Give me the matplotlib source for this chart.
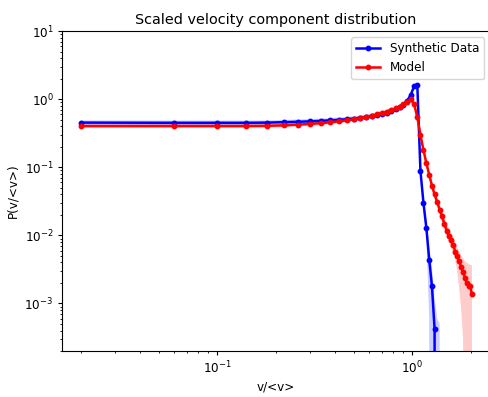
import numpy as np
import matplotlib
matplotlib.use("Agg")
import matplotlib.pyplot as plt

# bin centres of v/<v>
v = [0.02, 0.06, 0.10, 0.14, 0.18, 0.22, 0.26, 0.30, 0.34, 0.38,
     0.42, 0.46, 0.50, 0.54, 0.58, 0.62, 0.66, 0.70, 0.74, 0.78,
     0.82, 0.86, 0.90, 0.94, 0.98, 1.02, 1.06, 1.10, 1.14, 1.18,
     1.22, 1.26, 1.30, 1.34, 1.38, 1.42, 1.46, 1.50, 1.54, 1.58,
     1.62, 1.66, 1.70, 1.74, 1.78, 1.82, 1.86, 1.90, 1.94, 1.98, 2.02]

# Synthetic data (blue)
synth = [0.455, 0.452, 0.452, 0.452, 0.455, 0.462, 0.468, 0.475, 0.483, 0.492,
         0.500, 0.510, 0.522, 0.535, 0.550, 0.568, 0.588, 0.610, 0.638, 0.670,
         0.710, 0.760, 0.830, 0.950, 1.15, 1.55, 1.62, 0.089, 0.030, 0.0128,
         0.0044, 0.0018, 0.00042, 0.0]
synth_hi = [0.49, 0.488, 0.488, 0.488, 0.49, 0.498, 0.505, 0.513, 0.522, 0.531,
            0.54, 0.551, 0.564, 0.578, 0.594, 0.613, 0.635, 0.659, 0.689, 0.724,
            0.767, 0.82, 0.90, 1.03, 1.25, 1.68, 1.75, 0.10, 0.036, 0.017,
            0.0068, 0.0034, 0.0012, 0.0006, 0.0005, 0.0, 0.0, 0.0004, 0.0]
synth_lo = [0.423, 0.42, 0.42, 0.42, 0.423, 0.43, 0.435, 0.442, 0.449, 0.458,
            0.465, 0.474, 0.485, 0.498, 0.512, 0.528, 0.547, 0.567, 0.593, 0.623,
            0.66, 0.707, 0.77, 0.88, 1.06, 1.43, 1.50, 0.078, 0.024, 0.009,
            0.0006, 0.0, 0.0, 0.0, 0.0, 0.0, 0.0, 0.0, 0.0]

# Model (red)
model = [0.405, 0.405, 0.405, 0.405, 0.408, 0.415, 0.425, 0.435, 0.447, 0.46,
         0.475, 0.49, 0.508, 0.528, 0.55, 0.575, 0.60, 0.628, 0.66, 0.695,
         0.735, 0.78, 0.84, 0.92, 1.00, 0.85, 0.55, 0.30, 0.18, 0.115,
         0.078, 0.054, 0.040, 0.031, 0.024, 0.019, 0.0148, 0.0118, 0.0098, 0.0085,
         0.0072, 0.0058, 0.0049, 0.0042, 0.0034, 0.0029, 0.0024, 0.0020, 0.0018, 0.0018,
         0.00137]
model_hi = [0.43, 0.43, 0.43, 0.43, 0.433, 0.44, 0.451, 0.462, 0.476, 0.49,
            0.507, 0.524, 0.545, 0.568, 0.593, 0.621, 0.65, 0.682, 0.718, 0.757,
            0.80, 0.85, 0.915, 1.0, 1.08, 0.93, 0.60, 0.33, 0.20, 0.13,
            0.088, 0.062, 0.046, 0.036, 0.028, 0.023, 0.018, 0.0148, 0.0125, 0.0108,
            0.0094, 0.008, 0.0068, 0.0059, 0.0051, 0.0046, 0.0042, 0.004, 0.0038, 0.0037,
            0.0036]
model_lo = [0.38, 0.38, 0.38, 0.38, 0.383, 0.39, 0.399, 0.408, 0.418, 0.43,
            0.443, 0.456, 0.471, 0.488, 0.507, 0.529, 0.55, 0.574, 0.602, 0.633,
            0.67, 0.71, 0.765, 0.84, 0.92, 0.77, 0.50, 0.27, 0.16, 0.10,
            0.068, 0.047, 0.035, 0.027, 0.020, 0.0155, 0.012, 0.0095, 0.0078, 0.0065,
            0.0054, 0.0045, 0.0028, 0.0016, 0.0008, 0.0003, 0.0, 0.0, 0.0, 0.0,
            0.0]

s = 0.865  # font scale of the reference
fig = plt.figure(figsize=(4.88, 3.97), dpi=100)
ax = fig.add_axes([62/488, 46/397, 428/488, 319.7/397])
ax.set_xscale('log')
ax.set_yscale('log')

vb = v[:len(synth)]
vbb = v[:len(synth_hi)]
ax.fill_between(vbb, synth_lo, synth_hi, color='blue', alpha=0.2, linewidth=0)
ax.plot(vb, synth, 'o-', color='blue', lw=1.8, ms=3.2, label='Synthetic Data')
ax.fill_between(v, model_lo, model_hi, color='red', alpha=0.2, linewidth=0)
ax.plot(v, model, 'o-', color='red', lw=1.8, ms=3.2, label='Model')

ax.set_xlim(0.016, 2.5)
ax.set_ylim(2e-4, 10)
ax.set_title('Scaled velocity component distribution', fontsize=12*s, pad=6*s)
ax.set_xlabel('v/<v>', fontsize=10*s, labelpad=4*s)
ax.set_ylabel('P(v/<v>)', fontsize=10*s, labelpad=4*s)
ax.tick_params(which='both', labelsize=10*s)
ax.tick_params(which='major', length=3.5*s, pad=3.5*s)
ax.tick_params(which='minor', length=2*s)
ax.legend(loc='upper right', fontsize=10*s, borderaxespad=0.5)

fig.savefig('out.png', dpi=100)
